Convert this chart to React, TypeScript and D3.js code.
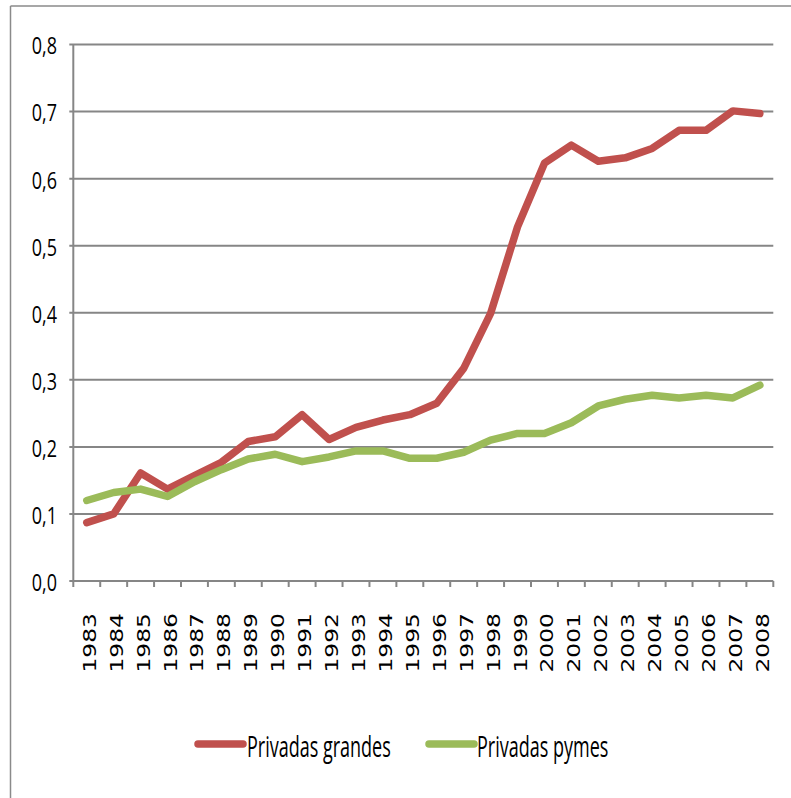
import React from "react";
import * as d3 from "d3";

const years = [
  "1983", "1984", "1985", "1986", "1987", "1988", "1989", "1990", "1991",
  "1992", "1993", "1994", "1995", "1996", "1997", "1998", "1999", "2000",
  "2001", "2002", "2003", "2004", "2005", "2006", "2007", "2008",
];

const grandes = [
  0.087, 0.1, 0.161, 0.137, 0.157, 0.177, 0.208, 0.215, 0.248, 0.211, 0.229,
  0.24, 0.248, 0.265, 0.317, 0.399, 0.528, 0.623, 0.65, 0.626, 0.631, 0.645,
  0.672, 0.672, 0.701, 0.697,
];

const pymes = [
  0.12, 0.132, 0.137, 0.126, 0.148, 0.166, 0.182, 0.189, 0.178, 0.185, 0.194,
  0.194, 0.183, 0.183, 0.192, 0.21, 0.22, 0.22, 0.236, 0.261, 0.271, 0.277,
  0.273, 0.277, 0.273, 0.292,
];

const yTicks = [0, 0.1, 0.2, 0.3, 0.4, 0.5, 0.6, 0.7, 0.8];

const seriesNames = ["Privadas grandes", "Privadas pymes"];
const seriesColors = ["#C0504D", "#9BBB59"];

const W = 791;
const H = 798;
const left = 73.3;
const right = 773.3;
const top = 44.5;
const bottom = 581;

export default function App() {
  const x = d3.scaleBand<string>().domain(years).range([left, right]);
  const y = d3.scaleLinear().domain([0, 0.8]).range([bottom, top]);
  const fmt = (v: number) => v.toFixed(1).replace(".", ",");

  const line = d3
    .line<number>()
    .x((_, i) => (x(years[i]) as number) + x.bandwidth() / 2)
    .y((d) => y(d));

  const series = [grandes, pymes];
  const boundaries = d3.range(years.length + 1).map((i) => left + i * x.step());

  const legendItems = [
    { x0: 198, x1: 243, tx: 247 },
    { x0: 429, x1: 474, tx: 477 },
  ];

  return (
    <svg
      width={W}
      height={H}
      style={{ position: "absolute", left: 0, top: 0, background: "#fff" }}
    >
      {/* chart frame */}
      <line x1={10.5} x2={W} y1={6} y2={6} stroke="#8a8a8a" strokeWidth={1.5} />
      <line x1={10.5} x2={10.5} y1={6} y2={H} stroke="#8a8a8a" strokeWidth={1.5} />

      {/* horizontal gridlines */}
      {yTicks.map((t) => (
        <g key={t}>
          <line
            x1={left - 4}
            x2={right}
            y1={y(t)}
            y2={y(t)}
            stroke="#868686"
            strokeWidth={2}
          />
          <text
            transform={`translate(57, ${y(t) + 1.5}) scale(1, 1.3)`}
            textAnchor="end"
            dy="0.36em"
            fontFamily="'Open Sans', sans-serif"
            fontSize={18}
            fill="#000"
          >
            {fmt(t)}
          </text>
        </g>
      ))}

      {/* axes */}
      <line x1={left} x2={left} y1={top} y2={bottom} stroke="#868686" strokeWidth={2} />
      {boundaries.map((bx, i) => (
        <line
          key={i}
          x1={bx}
          x2={bx}
          y1={bottom}
          y2={bottom + 6}
          stroke="#868686"
          strokeWidth={2}
        />
      ))}

      {/* year labels */}
      {years.map((yr) => {
        const cx = (x(yr) as number) + x.bandwidth() / 2;
        return (
          <text
            key={yr}
            transform={`translate(${cx}, 613) rotate(-90) scale(1.3, 1)`}
            textAnchor="end"
            y={9}
            fontFamily="'DejaVu Sans', sans-serif"
            fontSize={18}
            fill="#000"
          >
            {yr}
          </text>
        );
      })}

      {/* series */}
      {series.map((s, i) => (
        <path
          key={i}
          d={line(s) as string}
          fill="none"
          stroke={seriesColors[i]}
          strokeWidth={7.5}
          strokeLinejoin="round"
          strokeLinecap="round"
        />
      ))}

      {/* legend */}
      {legendItems.map((it, i) => (
        <g key={i}>
          <line
            x1={it.x0}
            x2={it.x1}
            y1={744}
            y2={744}
            stroke={seriesColors[i]}
            strokeWidth={7.5}
            strokeLinecap="round"
          />
          <text
            transform={`translate(${it.tx}, 757) scale(1, 1.65)`}
            fontFamily="'Open Sans', sans-serif"
            fontSize={18}
            fill="#000"
          >
            {seriesNames[i]}
          </text>
        </g>
      ))}
    </svg>
  );
}
